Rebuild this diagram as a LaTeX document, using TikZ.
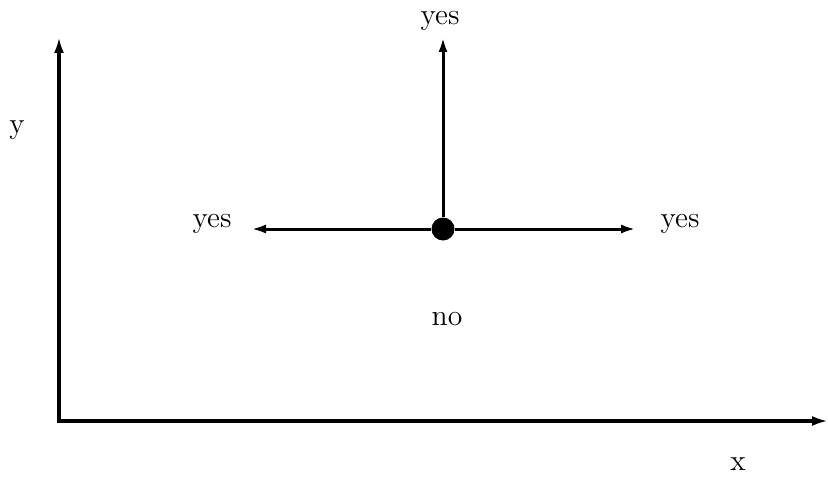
\documentclass[tikz,border=0pt]{standalone}
\usetikzlibrary{arrows.meta}

\begin{document}
\begin{tikzpicture}[x=0.5pt,y=-0.5pt,
    lbl/.style={inner sep=0pt,font=\fontsize{14.8}{17}\selectfont},
    axis/.style={line width=2pt,-{Latex[length=8pt,width=5pt]}},
    dir/.style={line width=1.5pt,-{Latex[length=7.5pt,width=4.5pt]}}]
    \useasboundingbox (0,0) rectangle (828,481);
    \coordinate (o) at (59,421); \coordinate (xend) at (828,421);
    \coordinate (yend) at (59,37); \coordinate (up) at (443,37);
    \coordinate (left) at (251,229); \coordinate (right) at (636,229);
    \draw[axis,line cap=rect] (yend |- o) -- (xend); \draw[axis] (o) -- (yend);
    \node[circle,fill,inner sep=0pt,minimum size=11.5pt] (pt) at (443,229) {};
    \foreach \p in {up,left,right} { \draw[dir] (pt) -- (\p); }
    \node[lbl] (yestop) at (440,21) {yes}; \node[lbl] (yesleft) at
    (212,224) {yes}; \node[lbl] (yesright) at (680,224) {yes};
    \node[lbl] (no) at (447,319) {no}; \node[lbl] (xlbl) at (738,464)
    {x}; \node[lbl] (ylbl) at (17,130) {y};
  \end{tikzpicture}
\end{document}
